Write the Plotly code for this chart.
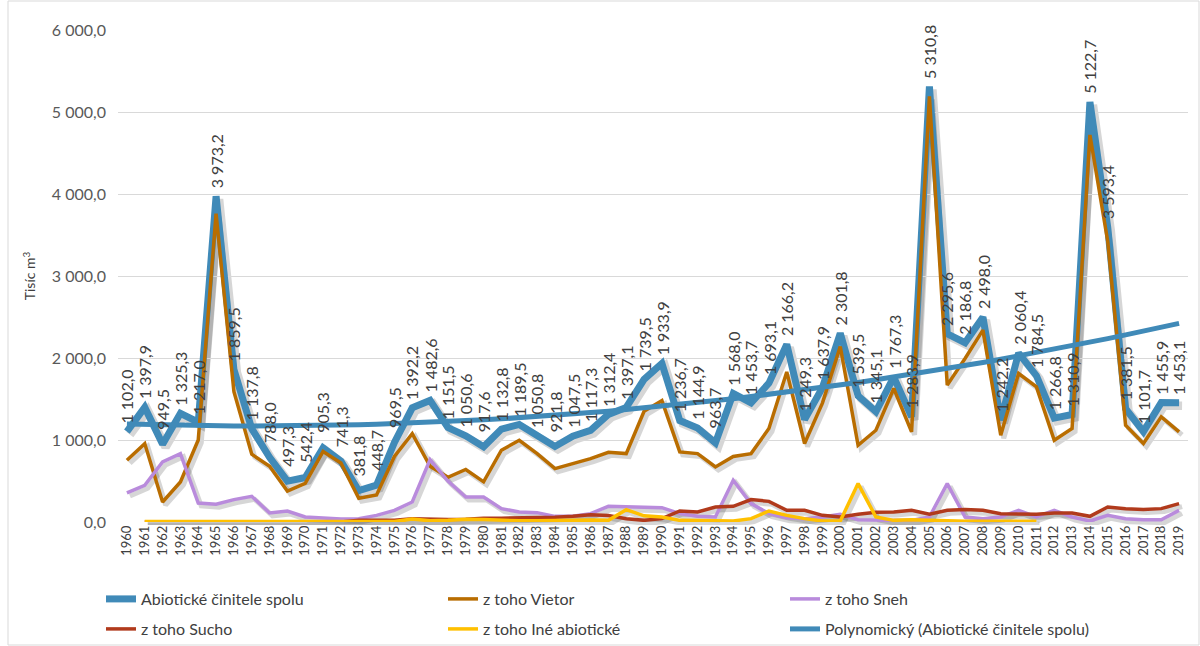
import numpy as np
import plotly.graph_objects as go

# ---- data (tisíc m3) ----
years = [str(y) for y in range(1960, 2020)]

abiotic_total = [1102.0, 1397.9, 949.5, 1325.3, 1217.0, 3973.2, 1859.5, 1137.8, 788.0, 497.3,
                 542.4, 905.3, 741.3, 381.8, 448.7, 969.5, 1392.2, 1482.6, 1151.5, 1050.6,
                 917.6, 1132.8, 1189.5, 1050.8, 921.8, 1047.5, 1117.3, 1312.4, 1397.1, 1739.5,
                 1933.9, 1236.7, 1144.9, 963.7, 1568.0, 1453.7, 1693.1, 2166.2, 1249.3, 1637.9,
                 2301.8, 1539.5, 1345.1, 1767.3, 1283.9, 5310.8, 2295.6, 2186.8, 2498.0, 1242.2,
                 2060.4, 1784.5, 1266.8, 1310.9, 5122.7, 3593.4, 1381.5, 1101.7, 1455.9, 1453.1]

wind = [753, 956, 244, 488, 1000, 3760, 1590, 826, 680, 378,
        470, 860, 720, 290, 330, 800, 1078, 680, 545, 640,
        490, 875, 997, 834, 651, 712, 773, 850, 834, 1350,
        1480, 855, 834, 672, 800, 834, 1140, 1830, 957, 1450,
        2140, 936, 1119, 1628, 1099, 5190, 1669, 1994, 2340, 1058,
        1811, 1648, 997, 1140, 4720, 3420, 1180, 957, 1282, 1099]

snow = [354, 448, 733, 834, 232, 216, 273, 313, 110, 134,
        61, 53, 37, 41, 81, 142, 244, 761, 500, 305,
        305, 163, 122, 114, 69, 69, 102, 191, 183, 175,
        175, 102, 69, 61, 509, 224, 102, 53, 41, 61,
        94, 28, 20, 20, 20, 61, 468, 61, 41, 61,
        142, 61, 142, 61, 12, 81, 41, 28, 28, 142]

drought = [None, 0, 0, 0, 0, 0, 0, 0, 0, 0,
           0, 0, 0, 20, 25, 20, 39, 30, 30, 35,
           47, 47, 50, 50, 59, 71, 88, 79, 41, 20,
           41, 134, 122, 183, 191, 273, 252, 142, 142, 81,
           61, 94, 118, 122, 142, 94, 142, 151, 142, 102,
           102, 94, 110, 110, 69, 183, 163, 151, 163, 224]

other = [None, 5, 5, 5, 5, 5, 5, 5, 5, 5,
         5, 5, 5, 5, 5, 5, 35, 15, 20, 35,
         30, 20, 15, 15, 20, 20, 25, 20, 150, 75,
         61, 20, 20, 12, 12, 41, 134, 81, 41, 12,
         12, 468, 61, 20, 28, 20, 10, 10, 10, 10,
         10, 10, None, None, None, None, None, None, None, None]

names = ["Abiotické činitele spolu", "z toho Vietor", "z toho Sneh",
         "z toho Sucho", "z toho Iné abiotické",
         "Polynomický (Abiotické činitele spolu)"]
colors = ["#408ab8", "#b96d00", "#b98bdc", "#b13a1c", "#ffc000", "#408ab8"]
widths = [7, 3.5, 3.5, 3.5, 3.5, 5]

# polynomial (2nd order) trend of the total
idx = np.arange(len(years))
coef = np.polyfit(idx, abiotic_total, 2)
trend = np.polyval(coef, idx)

series = [abiotic_total, wind, snow, drought, other]

FONT = "Century Gothic, Lato, sans-serif"
TXT = "#404040"

# ---- geometry (pixels) ----
W, H = 1200, 646
ML, MR, MT, MB = 118, 9, 30, 121
PW = W - ML - MR
PH = H - MT - MB
DX, DY = 2, 3  # drop-shadow offset

fig = go.Figure()

# drop shadows under the series (drawn on the lower subplot)
for s, w in zip(series, widths):
    fig.add_trace(go.Scatter(
        x=years, y=s, mode="lines", xaxis="x", yaxis="y",
        line=dict(color="rgba(0,0,0,0.16)", width=w + 1.5),
        showlegend=False, hoverinfo="skip", connectgaps=False))

for i, s in enumerate(series):
    fig.add_trace(go.Scatter(
        x=years, y=s, mode="lines", xaxis="x2", yaxis="y2", name=names[i],
        line=dict(color=colors[i], width=widths[i]),
        legend="legend" if i < 3 else "legend2"))

fig.add_trace(go.Scatter(
    x=years, y=trend, mode="lines", xaxis="x2", yaxis="y2", name=names[5],
    line=dict(color=colors[5], width=widths[5]), legend="legend2"))


def fmt(v):
    return f"{v:,.1f}".replace(",", " ").replace(".", ",")


# value labels of the total, rotated; x given as the category's serial number
annotations = []
for i, v in enumerate(abiotic_total):
    annotations.append(dict(
        x=i, y=v, xref="x2", yref="y2", text=fmt(v), showarrow=False,
        textangle=-90, xanchor="center", yanchor="middle", yshift=35,
        font=dict(family=FONT, size=16, color=TXT)))

legend_common = dict(orientation="h", x=(101 - ML) / PW, xanchor="left",
                     yanchor="middle", entrywidth=297, entrywidthmode="pixels",
                     font=dict(family=FONT, size=16, color=TXT),
                     bgcolor="rgba(0,0,0,0)")

fig.update_layout(
    width=W, height=H,
    margin=dict(l=ML, r=MR, t=MT, b=MB, autoexpand=False),
    paper_bgcolor="white", plot_bgcolor="rgba(0,0,0,0)",
    separators=", ",
    font=dict(family=FONT, color=TXT),
    xaxis=dict(type="category", range=[-0.5, 59.5], visible=False,
               domain=[(DX + 1) / PW, 1], anchor="y", fixedrange=True),
    yaxis=dict(range=[0, 6000], visible=False, domain=[0, (PH - DY) / PH],
               anchor="x", fixedrange=True),
    xaxis2=dict(type="category", range=[-0.5, 59.5], domain=[0, (PW - DX - 1) / PW],
                anchor="y2", tickangle=-90, showgrid=False, showline=False,
                ticks="", tickfont=dict(family=FONT, size=13, color=TXT)),
    yaxis2=dict(range=[0, 6000], domain=[DY / PH, 1], anchor="x2",
                dtick=1000, tickformat=",.1f", showgrid=True, gridcolor="#d9d9d9",
                gridwidth=1, zeroline=False, showline=False, ticks="",
                ticklabelstandoff=11,
                tickfont=dict(family=FONT, size=16, color="#595959"),
                title=dict(text="Tisíc m<sup>3</sup>", standoff=12,
                           font=dict(family=FONT, size=14, color=TXT))),
    legend=dict(legend_common, y=(H - MB - 599) / PH),
    legend2=dict(legend_common, y=(H - MB - 629) / PH),
    annotations=annotations,
    shapes=[dict(type="rect", xref="paper", yref="paper",
                 x0=(8 - ML) / PW, x1=(1199 - ML) / PW,
                 y0=(H - MB - 645) / PH, y1=(H - MB - 1) / PH,
                 line=dict(color="#d9d9d9", width=1), layer="below")],
)

fig.write_html("out.html")
